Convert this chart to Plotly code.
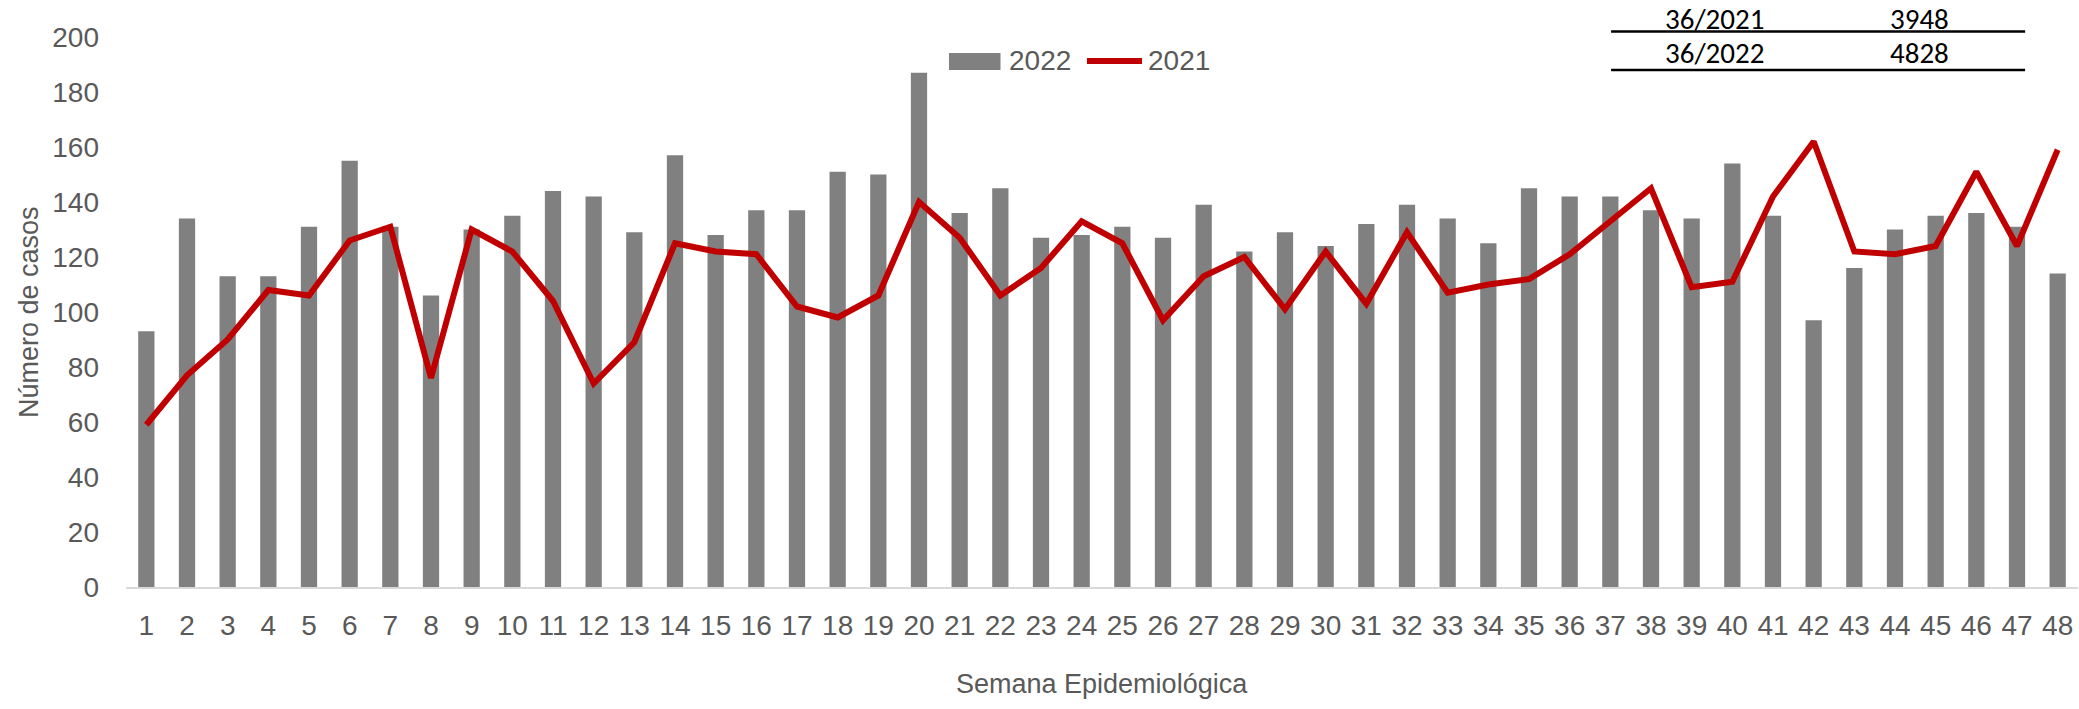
import plotly.graph_objects as go

weeks = [str(i) for i in range(1, 49)]
cases_2022 = [93, 134, 113, 113, 131, 155, 131, 106, 130, 135, 144, 142, 129, 157,
              128, 137, 137, 151, 150, 187, 136, 145, 127, 128, 131, 127, 139, 122,
              129, 124, 132, 139, 134, 125, 145, 142, 142, 137, 134, 154, 135, 97,
              116, 130, 135, 136, 131, 114]
cases_2021 = [59, 77, 90, 108, 106, 126, 131, 76, 130, 122, 104, 74, 89, 125,
              122, 121, 102, 98, 106, 140, 127, 106, 116, 133, 125, 97, 113, 120,
              101, 122, 103, 129, 107, 110, 112, 121, 133, 145, 109, 111, 142, 162,
              122, 121, 124, 151, 124, 159]
series_names = ["2022", "2021"]
table_labels = ["36/2021", "36/2022"]
table_values = ["3948", "4828"]

FONT = "Liberation Sans, Arial, sans-serif"
TXT = "#595959"
BAR_C = "#808080"
LINE_C = "#C00000"

fig = go.Figure()
fig.add_trace(go.Bar(x=weeks, y=cases_2022, name=series_names[0], showlegend=False,
                     marker=dict(color=BAR_C, line=dict(width=0))))
fig.add_trace(go.Scatter(x=weeks, y=cases_2021, name=series_names[1], mode="lines",
                         showlegend=False,
                         line=dict(color=LINE_C, width=6)))

fig.update_layout(
    width=2079, height=709,
    margin=dict(l=126, r=1, t=37, b=122),
    paper_bgcolor="white", plot_bgcolor="white",
    bargap=0.6,
    font=dict(family=FONT, size=28, color=TXT),
    showlegend=False,
    xaxis=dict(type="category", showgrid=False, showline=True, linecolor="#D9D9D9",
               linewidth=2, ticks="", tickfont=dict(family=FONT, size=28, color=TXT),
               ticklabelstandoff=12, zeroline=False),
    yaxis=dict(range=[0, 200], dtick=20, showgrid=False, showline=False, ticks="",
               tickfont=dict(family=FONT, size=28, color=TXT), zeroline=False,
               ticklabelstandoff=26),
)

# axis titles
fig.add_annotation(text="Número de casos", xref="paper", yref="paper",
                   x=-0.0497, y=0.5, xanchor="center", yanchor="middle",
                   textangle=-90, showarrow=False,
                   font=dict(family=FONT, size=27, color=TXT))
fig.add_annotation(text="Semana Epidemiológica", xref="paper", yref="paper",
                   x=0.5, y=-0.176, xanchor="center", yanchor="middle",
                   showarrow=False, font=dict(family=FONT, size=27, color=TXT))

# legend (drawn to match the wide swatch of the original)
leg_y = 0.9564
fig.add_shape(type="rect", xref="paper", yref="paper", x0=0.4216, x1=0.4480,
              y0=0.94, y1=0.9709, fillcolor=BAR_C, line=dict(width=0))
fig.add_annotation(text=series_names[0], xref="paper", yref="paper", x=0.4513, y=leg_y,
                   xanchor="left", yanchor="middle", showarrow=False,
                   font=dict(family=FONT, size=28, color=TXT))
fig.add_shape(type="line", xref="paper", yref="paper", x0=0.4923, x1=0.5205,
              y0=leg_y, y1=leg_y, line=dict(color=LINE_C, width=6))
fig.add_annotation(text=series_names[1], xref="paper", yref="paper", x=0.5223, y=leg_y,
                   xanchor="left", yanchor="middle", showarrow=False,
                   font=dict(family=FONT, size=28, color=TXT))

# summary table
TFONT = "Carlito, Calibri, Lato, sans-serif"
row_y = [1.0336, 0.9709]
line_y = [1.0098, 0.94]
for lab, val, ry, ly in zip(table_labels, table_values, row_y, line_y):
    fig.add_annotation(text=lab, xref="paper", yref="paper", x=0.814, y=ry,
                       xanchor="center", yanchor="middle", showarrow=False,
                       borderpad=0,
                       font=dict(family=TFONT, size=29, color="black"))
    fig.add_annotation(text=val, xref="paper", yref="paper", x=0.919, y=ry,
                       xanchor="center", yanchor="middle", showarrow=False,
                       borderpad=0,
                       font=dict(family=TFONT, size=29, color="black"))
    fig.add_shape(type="line", xref="paper", yref="paper", x0=0.7608, x1=0.9729,
                  y0=ly, y1=ly, line=dict(color="black", width=2.5))

fig.write_html("out.html", config={"displayModeBar": False},
               post_script="document.body.style.margin='0';")
